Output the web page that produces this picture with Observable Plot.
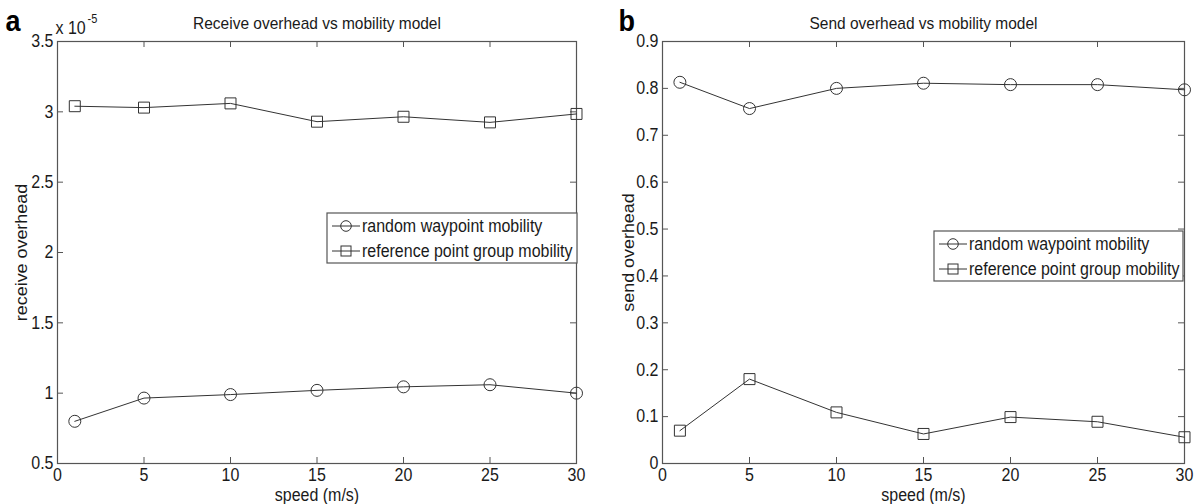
<!DOCTYPE html>
<html><head><meta charset="utf-8">
<script src="https://cdn.jsdelivr.net/npm/d3@7"></script>
<script src="https://cdn.jsdelivr.net/npm/@observablehq/plot@0.6"></script>
<style>
html,body{margin:0;padding:0;background:#fff;}
#wrap{display:flex;width:1199px;height:504px;overflow:hidden;}
#wrap svg{display:block;flex:none;}
</style></head><body><div id="wrap"></div>
<script>
// ---- data ----
const speeds = [1, 5, 10, 15, 20, 25, 30];
const seriesNames = ["random waypoint mobility", "reference point group mobility"];
const receiveRandom = [0.80, 0.965, 0.99, 1.02, 1.045, 1.06, 1.00];   // x 10^-5
const receiveRef    = [3.04, 3.03, 3.06, 2.93, 2.965, 2.925, 2.985];  // x 10^-5
const sendRandom    = [0.813, 0.757, 0.800, 0.811, 0.808, 0.808, 0.797];
const sendRef       = [0.070, 0.180, 0.109, 0.063, 0.099, 0.089, 0.056];
const xTicks = [0, 5, 10, 15, 20, 25, 30];
const receiveTicks = [0.5, 1, 1.5, 2, 2.5, 3, 3.5];
const sendTicks = [0, 0.1, 0.2, 0.3, 0.4, 0.5, 0.6, 0.7, 0.8, 0.9];
const panelLetters = ["a", "b"];
const titles = ["Receive overhead vs mobility model", "Send overhead vs mobility model"];
const yLabels = ["receive overhead", "send overhead"];
const xLabel = "speed (m/s)";
const multiplierText = "x 10";
const exponentText = "-5";

const FRAME = "#555";
const LINE = "#333";
const TEXT = "#1a1a1a";
const FONT = "'Liberation Sans', Arial, Helvetica, sans-serif";
const TEXT_STRETCH = 1.12;

function toRows(values, series) {
  return speeds.map((s, i) => ({speed: s, value: values[i], series}));
}

function panel(o) {
  const H = 504, mt = 41, mb = 41;
  const innerH = H - mt - mb, innerW = o.width - o.ml - o.mr;
  const tl = 6;
  const rowsA = toRows(o.valsA, seriesNames[0]);
  const rowsB = toRows(o.valsB, seriesNames[1]);
  const marks = [
    Plot.tickX(xTicks, {x: d => d, insetTop: innerH - tl, stroke: FRAME}),
    Plot.tickX(xTicks, {x: d => d, insetBottom: innerH - tl, stroke: FRAME}),
    Plot.tickY(o.yTicks, {y: d => d, insetRight: innerW - tl, stroke: FRAME}),
    Plot.tickY(o.yTicks, {y: d => d, insetLeft: innerW - tl, stroke: FRAME}),
    Plot.frame({stroke: FRAME, strokeWidth: 1.2}),
    Plot.axisX({ticks: xTicks, tickSize: 0, tickPadding: 5, label: null, tickFormat: d => String(d)}),
    Plot.axisY({ticks: o.yTicks, tickSize: 0, tickPadding: 4, label: null, tickFormat: d => String(d)}),
    Plot.line(rowsA, {x: "speed", y: "value", stroke: LINE, strokeWidth: 1}),
    Plot.line(rowsB, {x: "speed", y: "value", stroke: LINE, strokeWidth: 1}),
    Plot.dot(rowsA, {x: "speed", y: "value", symbol: "circle", r: 6, stroke: LINE, fill: "none", strokeWidth: 1}),
    Plot.dot(rowsB, {x: "speed", y: "value", symbol: "square", r: 6.2, stroke: LINE, fill: "none", strokeWidth: 1}),
    Plot.text([o.title], {text: d => d, frameAnchor: "top", dy: -13, lineAnchor: "bottom", textAnchor: "middle", fontSize: 15.5, fill: TEXT}),
    Plot.text([o.letter], {text: d => d, frameAnchor: "top-left", dx: o.letterDx, dy: -12, lineAnchor: "bottom", textAnchor: "start", fontSize: 27, fontWeight: "bold", fill: "#000"}),
    Plot.text([xLabel], {text: d => d, frameAnchor: "bottom", dy: 37, lineAnchor: "bottom", textAnchor: "middle", fill: TEXT}),
    Plot.text([o.yLabel], {text: d => d, frameAnchor: "left", dx: o.ylDx, rotate: -90, lineAnchor: "bottom", textAnchor: "middle", fill: TEXT})
  ];
  if (o.exponent) {
    marks.push(Plot.text([multiplierText], {text: d => d, frameAnchor: "top-left", dx: -2, dy: -8, lineAnchor: "bottom", textAnchor: "start", fill: TEXT}));
    marks.push(Plot.text([o.exponent], {text: d => d, frameAnchor: "top-left", dx: 30, dy: -19, lineAnchor: "bottom", textAnchor: "start", fontSize: 11, fill: TEXT}));
  }
  const svgNode = Plot.plot({
    width: o.width, height: H,
    marginLeft: o.ml, marginRight: o.mr, marginTop: mt, marginBottom: mb,
    x: {domain: [0, 30]},
    y: {domain: o.yDomain},
    style: {fontFamily: FONT, fontSize: "16px", color: TEXT, background: "#fff", overflow: "visible"},
    marks
  });
  // legend
  const svg = d3.select(svgNode);
  const L = o.legend;
  const g = svg.append("g").attr("font-family", FONT).attr("font-size", 16).attr("text-anchor", "start");
  g.append("rect").attr("x", L.x).attr("y", L.y).attr("width", L.w).attr("height", 50)
    .attr("fill", "#fff").attr("stroke", FRAME).attr("stroke-width", 1.2);
  seriesNames.forEach((name, i) => {
    const cy = L.y + 13 + i * 25;
    const x0 = L.x + 5, x1 = L.x + 33, cx = (x0 + x1) / 2;
    g.append("line").attr("x1", x0).attr("x2", x1).attr("y1", cy).attr("y2", cy).attr("stroke", LINE);
    if (i === 0) g.append("circle").attr("cx", cx).attr("cy", cy).attr("r", 5.3).attr("fill", "none").attr("stroke", LINE);
    else g.append("rect").attr("x", cx - 5).attr("y", cy - 5).attr("width", 10).attr("height", 10).attr("fill", "none").attr("stroke", LINE);
    g.append("text").attr("x", x1 + 2).attr("y", cy).attr("dy", "0.35em").attr("text-anchor", "start").attr("fill", TEXT).text(name);
  });
  return svgNode;
}

// text in the reference is slightly taller than wide: stretch each text vertically about its own centre
function stretchTexts(svgNode, k) {
  svgNode.querySelectorAll("text").forEach(t => {
    const b = t.getBBox();
    let cx = b.x + b.width / 2, cy = b.y + b.height / 2;
    const tr = t.transform.baseVal.consolidate();
    if (tr) {
      const m = tr.matrix;
      const px = m.a * cx + m.c * cy + m.e, py = m.b * cx + m.d * cy + m.f;
      cx = px; cy = py;
    }
    const wrapG = document.createElementNS("http://www.w3.org/2000/svg", "g");
    wrapG.setAttribute("transform", `translate(${cx},${cy}) scale(1,${k}) translate(${-cx},${-cy})`);
    t.parentNode.insertBefore(wrapG, t);
    wrapG.appendChild(t);
  });
}

const wrap = document.getElementById("wrap");
const left = panel({
  width: 600, ml: 57, mr: 24, yDomain: [0.5, 3.5], yTicks: receiveTicks,
  valsA: receiveRandom, valsB: receiveRef, letter: panelLetters[0], letterDx: -52,
  title: titles[0], yLabel: yLabels[0], ylDx: -31, exponent: exponentText,
  legend: {x: 327, y: 213, w: 250}
});
const right = panel({
  width: 599, ml: 62, mr: 15, yDomain: [0, 0.9], yTicks: sendTicks,
  valsA: sendRandom, valsB: sendRef, letter: panelLetters[1], letterDx: -44,
  title: titles[1], yLabel: yLabels[1], ylDx: -29, exponent: null,
  legend: {x: 334, y: 231, w: 249}
});
wrap.appendChild(left);
wrap.appendChild(right);
stretchTexts(left, TEXT_STRETCH);
stretchTexts(right, TEXT_STRETCH);
</script></body></html>
